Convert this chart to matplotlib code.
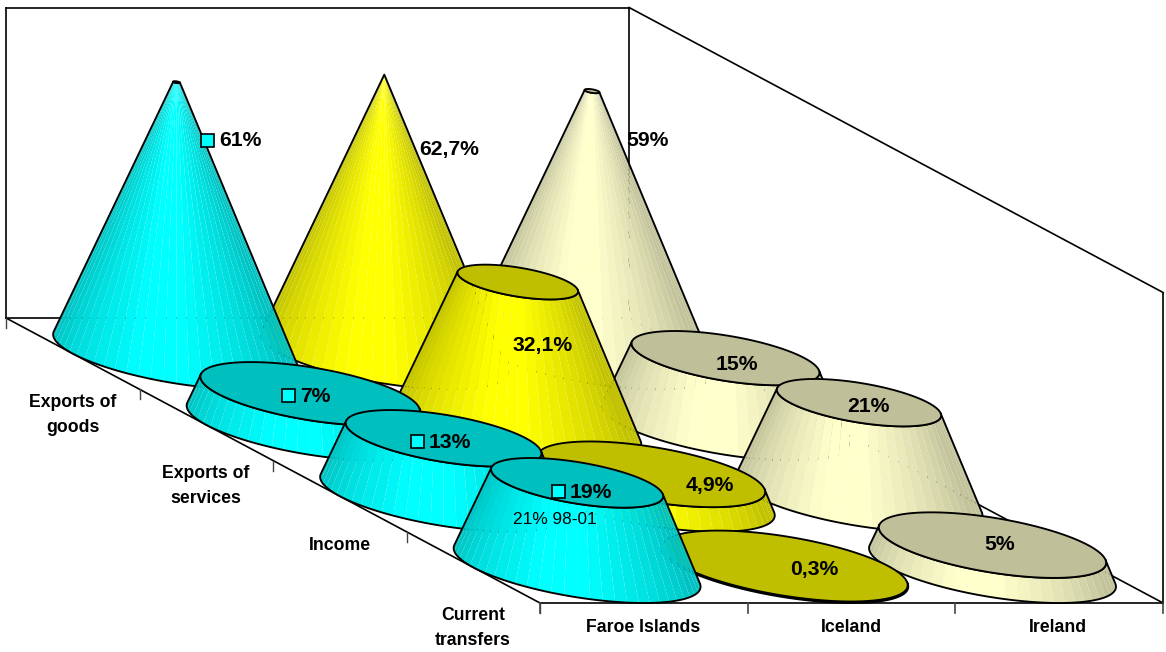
import numpy as np
import matplotlib
matplotlib.use("Agg")
import matplotlib.pyplot as plt
from matplotlib.patches import Polygon, Rectangle

plt.rcParams['font.family'] = ['Liberation Sans', 'DejaVu Sans']

# Data
countries = ['Faroe Islands', 'Iceland', 'Ireland']
items = ['Exports of\ngoods', 'Exports of\nservices', 'Income', 'Current\ntransfers']
faroe = [61, 7, 13, 19]
iceland = [62.7, 32.1, 4.9, 0.3]
ireland = [59, 15, 21, 5]
faroe_note = '21% 98-01'

# Colours of the three countries
side_colors = [(0.0, 1.0, 1.0), (1.0, 1.0, 0.0), (1.0, 1.0, 0.8)]

# Oblique projection of the chart box
origin = np.array([6.0, 318.0])
cat_step = np.array([207.7, 0.0])
depth_step = np.array([133.5, 71.25])
px_per_unit = 4.45
wall_top = 7.5
tick_len = 10
taper_max = max(faroe + iceland + ireland)
n_facets = 60


def floor_xy(cat, row):
    return origin + cat * cat_step + row * depth_step


def ring(cat, row, value, t):
    # circle of a cone at height value, t is the angle in radians
    r = 0.5 * (1 - value / taper_max)
    c = floor_xy(cat + 0.5, row + 0.5)
    x = c[0] + r * (cat_step[0] * np.cos(t) + depth_step[0] * np.sin(t))
    y = c[1] + r * depth_step[1] * np.sin(t) - value * px_per_unit
    return x, y


def shade(t):
    delta = max(0.0, abs(np.degrees(t) - 130) - 10)
    return max(0.76, 1.0 - 0.0036 * delta)


def draw_cone(ax, cat, row, value, color):
    fine = np.linspace(0, 2 * np.pi, 721)
    bx, by = ring(cat, row, 0, fine)
    tx, ty = ring(cat, row, value, fine)

    # a side strip faces the viewer when its corners run the right way round
    facing = []
    for i in range(len(fine) - 1):
        area = ((bx[i + 1] - bx[i]) * (ty[i] - by[i])
                - (by[i + 1] - by[i]) * (tx[i] - bx[i]))
        facing.append(area > 0)
    facing = np.array(facing)
    idx = np.where(facing)[0]
    t_start, t_end = fine[idx[0]], fine[idx[-1] + 1]

    edges = np.linspace(t_start, t_end, int((t_end - t_start) / (2 * np.pi) * n_facets) + 1)
    for a, b in zip(edges[:-1], edges[1:]):
        ts = np.linspace(a, b, 4)
        x0, y0 = ring(cat, row, 0, ts)
        x1, y1 = ring(cat, row, value, ts)
        pts = np.r_[np.c_[x0, y0], np.c_[x1, y1][::-1]]
        k = shade(0.5 * (a + b))
        ax.add_patch(Polygon(pts, closed=True, facecolor=tuple(k * np.array(color)),
                             edgecolor='none', antialiased=True, zorder=3))

    # outline of the side
    ts = np.linspace(t_start, t_end, 200)
    x0, y0 = ring(cat, row, 0, ts)
    x1, y1 = ring(cat, row, value, ts)
    outline = np.r_[np.c_[x0, y0], np.c_[x1, y1][::-1]]
    ax.add_patch(Polygon(outline, closed=True, facecolor='none', edgecolor='black',
                         linewidth=1.35, joinstyle='round', zorder=3))

    # flat top
    ax.add_patch(Polygon(np.c_[tx, ty], closed=True, facecolor=tuple(0.75 * np.array(color)),
                         edgecolor='black', linewidth=1.35, zorder=3))


fig = plt.figure(figsize=(11.66, 6.52), dpi=100, facecolor='white')
ax = fig.add_axes([0, 0, 1, 1])
ax.set_xlim(0, 1166)
ax.set_ylim(652, 0)
ax.axis('off')

# Walls and floor of the box
n_cat = len(countries)
n_row = len(items)
back_l = floor_xy(0, 0)
back_r = floor_xy(n_cat, 0)
front_l = floor_xy(0, n_row)
front_r = floor_xy(n_cat, n_row)
wall_h = origin[1] - wall_top
box_lines = [
    (back_l, back_r), (back_l, front_l), (back_r, front_r), (front_l, front_r),
    (back_l - [0, wall_h], back_r - [0, wall_h]),
    (back_r - [0, wall_h], front_r - [0, wall_h]),
    (back_l - [0, wall_h], back_l),
    (back_r - [0, wall_h], back_r),
    (front_r - [0, wall_h], front_r),
]
for p, q in box_lines:
    ax.plot([p[0], q[0]], [p[1], q[1]], color='black', lw=1.2, zorder=1)

for i in range(n_cat + 1):
    p = floor_xy(i, n_row)
    ax.plot([p[0], p[0]], [p[1], p[1] + tick_len], color='#444444', lw=1.2, zorder=1)
for j in range(n_row + 1):
    p = floor_xy(0, j)
    ax.plot([p[0], p[0]], [p[1], p[1] + tick_len], color='#444444', lw=1.0, zorder=1)

# Cones, back row first and right to left within a row
table = [faroe, iceland, ireland]
order = 10
for j in range(n_row):
    for i in reversed(range(n_cat)):
        before = len(ax.patches)
        draw_cone(ax, i, j, table[i][j], side_colors[i])
        for patch in ax.patches[before:]:
            patch.set_zorder(order)
        order += 1


# Value labels
def pct(v):
    return f'{v:g}%'.replace('.', ',')


label_pos = {
    (0, 0): (240, 141), (0, 1): (315, 396), (0, 2): (449.5, 442.5), (0, 3): (591, 493),
    (1, 0): (449, 150), (1, 1): (543, 346), (1, 2): (710, 486), (1, 3): (814, 570),
    (2, 0): (647, 141), (2, 1): (737, 364), (2, 2): (868, 406), (2, 3): (1000, 544),
}
for (i, j), (x, y) in label_pos.items():
    ax.text(x, y, pct(table[i][j]), ha='center', va='center', fontsize=15.2,
            fontweight='bold', color='black', zorder=100)

# Small keys next to the first country's labels
key_pos = [(207, 140), (288, 395), (417, 441), (558, 491)]
key_size = 13
for x, y in key_pos:
    ax.add_patch(Rectangle((x - key_size / 2, y - key_size / 2), key_size, key_size,
                           facecolor=side_colors[0], edgecolor='black', linewidth=1.2, zorder=100))

ax.text(554.5, 519, faroe_note, ha='center', va='center', fontsize=12.4, color='black', zorder=100)

# Axis labels
country_x = [643, 851, 1058]
for name, x in zip(countries, country_x):
    ax.text(x, 627, name, ha='center', va='center', fontsize=12.7, fontweight='bold', zorder=100)

item_xy = [(73, 415), (206, 486), (340, 545), (473, 628)]
for name, (x, y) in zip(items, item_xy):
    ax.text(x, y, name, ha='center', va='center', fontsize=12.7, fontweight='bold',
            linespacing=1.55, zorder=100)

fig.savefig('out.png', dpi=100, facecolor='white')
